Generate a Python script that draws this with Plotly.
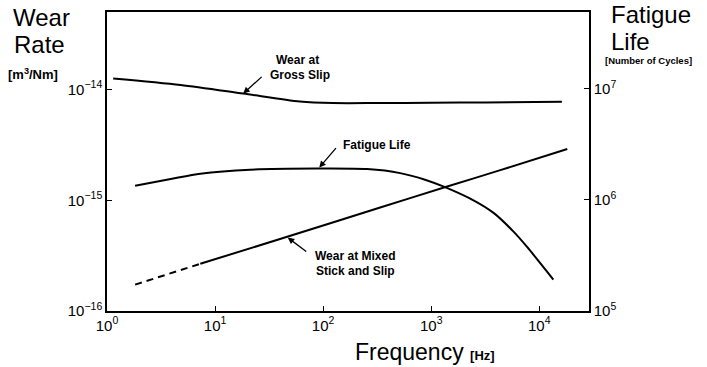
import plotly.graph_objects as go
import math

# ---- data ----
gross_freq = [1.14, 4.8, 18.2, 61, 123, 316, 1000, 3160, 16200]
gross_wear = [1.26e-14, 1.10e-14, 9.2e-15, 7.8e-15, 7.55e-15, 7.55e-15, 7.6e-15, 7.65e-15, 7.75e-15]

fatigue_freq = [1.82, 4.0, 7.3, 21.1, 88, 255, 516, 890, 1291, 2510, 3800, 5750, 7745, 13490]
fatigue_life = [1.34e6, 1.55e6, 1.72e6, 1.87e6, 1.91e6, 1.89e6, 1.74e6, 1.51e6, 1.32e6, 9.8e5, 7.6e5, 5.2e5, 3.75e5, 1.92e5]

mixed_freq = [1.82, 7.3, 46.5, 337, 1406, 4355, 18160]
mixed_wear = [1.73e-16, 2.67e-16, 4.68e-16, 8.6e-16, 1.33e-15, 1.87e-15, 2.90e-15]

x_tickvals = [1, 10, 100, 1000, 10000]
x_ticktext = ["10<sup>0</sup>", "10<sup>1</sup>", "10<sup>2</sup>", "10<sup>3</sup>", "10<sup>4</sup>"]
yl_tickvals = [1e-16, 1e-15, 1e-14]
yl_ticktext = ["10<sup>−16</sup>", "10<sup>−15</sup>", "10<sup>−14</sup>"]
yr_tickvals = [1e5, 1e6, 1e7]
yr_ticktext = ["10<sup>5</sup>", "10<sup>6</sup>", "10<sup>7</sup>"]

FONT = "Liberation Sans, Arial, sans-serif"
W, H = 707, 367
L, R, T, B = 107, 589, 10, 311


def px(x):
    return (x - L) / (R - L)


def py(y):
    return (B - y) / (B - T)


fig = go.Figure()
fig.add_trace(go.Scatter(x=gross_freq, y=gross_wear, mode="lines",
                         line=dict(color="black", width=2, shape="spline", smoothing=0.8), yaxis="y"))
fig.add_trace(go.Scatter(x=mixed_freq[:2], y=mixed_wear[:2], mode="lines",
                         line=dict(color="black", width=2, dash="7px,5px"), yaxis="y"))
fig.add_trace(go.Scatter(x=mixed_freq[1:], y=mixed_wear[1:], mode="lines",
                         line=dict(color="black", width=2, shape="spline", smoothing=0.5), yaxis="y"))
fig.add_trace(go.Scatter(x=fatigue_freq, y=fatigue_life, mode="lines",
                         line=dict(color="black", width=2, shape="spline", smoothing=0.7), yaxis="y2"))

axis_common = dict(showgrid=False, zeroline=False, showline=True, linecolor="black",
                   linewidth=1.5, ticks="inside", ticklen=5, tickwidth=1.2, tickcolor="black",
                   tickfont=dict(family=FONT, size=15, color="black"))

fig.update_layout(
    width=W, height=H,
    margin=dict(l=L, r=W - R, t=T, b=H - B),
    paper_bgcolor="white", plot_bgcolor="white",
    showlegend=False,
    font=dict(family=FONT, color="black"),
    xaxis=dict(type="log", range=[0, 4.46], tickvals=x_tickvals, ticktext=x_ticktext,
               mirror=True, **axis_common),
    yaxis=dict(type="log", range=[-16, -13.3], tickvals=yl_tickvals, ticktext=yl_ticktext,
               **axis_common),
    yaxis2=dict(type="log", range=[5, 7.69], tickvals=yr_tickvals, ticktext=yr_ticktext,
                overlaying="y", side="right", **axis_common),
)

ann = []


def text(x, y, s, size, anchor="center", bold=False):
    ann.append(dict(xref="paper", yref="paper", x=px(x), y=py(y), text=(f"<b>{s}</b>" if bold else s),
                    showarrow=False, xanchor=anchor, yanchor="middle",
                    font=dict(family=FONT, size=size, color="black")))


# axis titles
text(41, 16, "Wear", 24)
text(39, 43, "Rate", 24)
text(33, 72, "[m<sup>3</sup>/Nm]", 13, bold=True)
text(609, 13, "Fatigue", 24, anchor="left")
text(609, 40, "Life", 24, anchor="left")
text(603, 59, "[Number of Cycles]", 9.5, anchor="left", bold=True)
text(425, 352, "Frequency <span style='font-size:13px'><b>[Hz]</b></span>", 23)

# curve labels
text(297, 58, "Wear at", 12, bold=True)
text(300, 73, "Gross Slip", 12, bold=True)
text(377, 144, "Fatigue Life", 12, bold=True)
text(355, 256, "Wear at Mixed", 12, bold=True)
text(355, 271, "Stick and Slip", 12, bold=True)


def arrow(xlog, ylog, yref, dx, dy):
    ann.append(dict(xref="x", yref=yref, x=xlog, y=ylog, ax=dx, ay=dy, text="",
                    showarrow=True, arrowhead=2, arrowsize=1, arrowwidth=1.3,
                    arrowcolor="black", standoff=0))


arrow(math.log10(18.2), math.log10(9.2e-15), "y", 20, -18)
arrow(math.log10(92), math.log10(1.95e6), "y2", 18, -21)
arrow(math.log10(47), math.log10(4.6e-16), "y", 20, 15)

fig.update_layout(annotations=ann)
fig.write_html("out.html", config={"displayModeBar": False},
               post_script="document.body.style.margin='0';document.body.style.padding='0';")
